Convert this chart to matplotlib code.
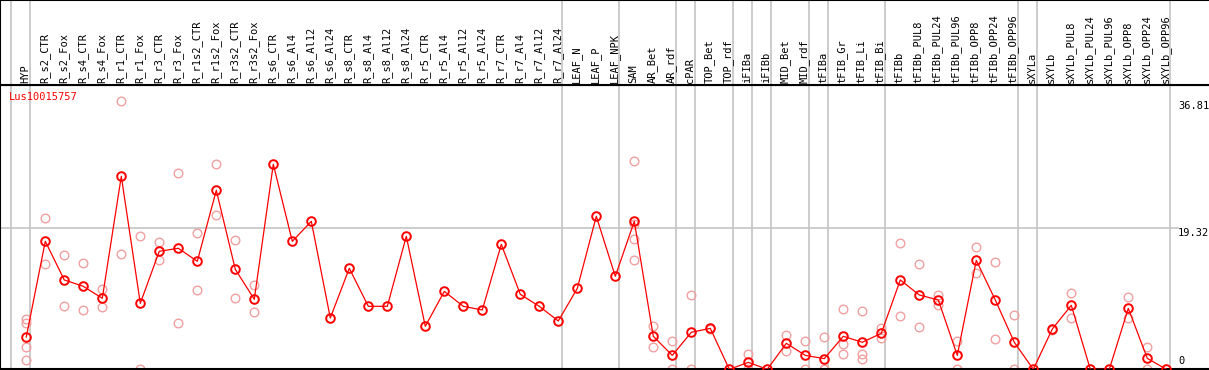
import matplotlib
matplotlib.use("Agg")
import matplotlib.pyplot as plt
from matplotlib.transforms import blended_transform_factory

# sample names (one column each)
samples = ["HYP",
           "R_s2_CTR", "R_s2_Fox", "R_s4_CTR", "R_s4_Fox", "R_r1_CTR", "R_r1_Fox",
           "R_r3_CTR", "R_r3_Fox", "R_r1s2_CTR", "R_r1s2_Fox", "R_r3s2_CTR", "R_r3s2_Fox",
           "R_s6_CTR", "R_s6_Al4", "R_s6_Al12", "R_s6_Al24", "R_s8_CTR", "R_s8_Al4",
           "R_s8_Al12", "R_s8_Al24", "R_r5_CTR", "R_r5_Al4", "R_r5_Al12", "R_r5_Al24",
           "R_r7_CTR", "R_r7_Al4", "R_r7_Al12", "R_r7_Al24",
           "LEAF_N", "LEAF_P", "LEAF_NPK",
           "SAM", "AR_Bet", "AR_rdf",
           "cPAR",
           "TOP_Bet", "TOP_rdf",
           "iFIBa",
           "iFIBb",
           "MID_Bet", "MID_rdf",
           "tFIBa",
           "tFIB_Gr", "tFIB_Li", "tFIB_Bi",
           "tFIBb", "tFIBb_PUL8", "tFIBb_PUL24", "tFIBb_PUL96", "tFIBb_OPP8",
           "tFIBb_OPP24", "tFIBb_OPP96",
           "sXYLa",
           "sXYLb", "sXYLb_PUL8", "sXYLb_PUL24", "sXYLb_PUL96", "sXYLb_OPP8",
           "sXYLb_OPP24", "sXYLb_OPP96"]

# how many samples in each grey-boxed group
group_sizes = [1, 28, 3, 3, 1, 2, 1, 1, 2, 1, 3, 7, 1, 7]

# mean expression
means = [4.43, 17.54, 12.24, 11.37, 9.73, 26.45, 9.04, 16.17, 16.58, 14.80,
         24.53, 13.70, 9.59, 28.09, 17.53, 20.28, 7.03, 13.84, 8.63, 8.63,
         18.22, 5.89, 10.68, 8.63, 8.13, 17.12, 10.27, 8.63, 6.62, 11.09,
         20.96, 12.74, 20.28, 4.52, 1.91, 5.07, 5.61, 0, 0.95, 0,
         3.56, 1.91, 1.46, 4.52, 3.70, 4.93, 12.24, 10.18, 9.50, 1.91,
         14.93, 9.50, 3.70, 0, 5.52, 8.77, 0, 0, 8.35, 1.50, 0]

# replicates
reps = [[6.85, 6.39, 3.01, 1.27], [20.73, 14.39], [15.66, 8.63], [14.57, 8.08],
        [11.0, 8.5], [36.81, 15.76], [18.22, 0], [17.4, 14.94], [26.86, 6.3],
        [18.63, 10.82], [28.09, 21.14], [17.68, 9.73], [11.55, 7.81],
        [], [], [], [], [], [], [], [], [], [], [], [], [], [], [], [],
        [], [], [],
        [28.54, 19.9, 17.81, 14.93], [5.89, 3.01], [3.88, 0],
        [10.18, 0],
        [5.5], [],
        [2.1, 0],
        [],
        [4.65, 2.46], [3.88, 0],
        [4.38, 0, 0],
        [8.26, 3.42, 2.05], [7.99, 2.05, 1.37], [5.61, 4.33],
        [17.31, 7.30], [14.43, 5.80], [10.18, 8.77], [3.88, 0], [16.76, 13.15],
        [14.70, 4.15], [7.40, 0],
        [],
        [5.4], [10.46, 6.98], [], [], [9.86, 6.98], [3.06, 0], []]

gene = "Lus10015757"
y_max = 36.81
y_mid = 19.32

W, H = 1209, 370
fig = plt.figure(figsize=(W / 100, H / 100), dpi=100)
head_h = 85
plot_h = 284.3

ax = fig.add_axes([0, (H - 85 - plot_h) / H, 1, plot_h / H])
hax = fig.add_axes([0, (H - head_h) / H, 1, head_h / H], sharex=ax)

n = len(samples)
px = 19.0
x0 = 26.3
ax.set_xlim(-x0 / px, (W - x0) / px)
ax.set_ylim(0, plot_h / 7.298)
hax.set_ylim(0, 1)

for a in (ax, hax):
    a.set_xticks([])
    a.set_yticks([])
    a.spines["right"].set_visible(False)
    for s in ("top", "bottom", "left"):
        a.spines[s].set_linewidth(1.5)
        a.spines[s].set_color("black")

mono = "DejaVu Sans Mono"
grey = "#c4c4c4"

# group separators
edges = [-1]
for g in group_sizes:
    edges.append(edges[-1] + g)
for e in edges:
    ax.axvline(e + 0.21, color=grey, lw=1.2, zorder=0)
    hax.axvline(e + 0.21, color=grey, lw=1.2, zorder=0)

ax.axhline(y_mid, xmax=1178 / W, color=grey, lw=1.2, zorder=0)

# sample labels
for i, s in enumerate(samples):
    hax.text(i - 0.05, 0.025, s, rotation=90, ha="center", va="bottom",
             family=mono, fontsize=7.5)

# replicate points
rx = [i for i, r in enumerate(reps) for _ in r]
ry = [v for r in reps for v in r]
ax.plot(rx, ry, ls="none", marker="o", ms=6.2, mfc="none", mec="#f0a0a0",
        mew=1.0, zorder=2)

# mean line
ax.plot(range(n), means, color="red", lw=0.9, marker="o", ms=6.2, mfc="none",
        mec="red", mew=1.4, zorder=3)

ax.text(9 / W, 1 - 12 / plot_h, gene, transform=ax.transAxes, color="red",
        family=mono, fontsize=7.5, ha="left", va="center")

tr = blended_transform_factory(ax.transAxes, ax.transData)
lx = 1178 / W
ax.text(lx, y_max, "%.2f" % y_max, transform=tr, family=mono, fontsize=7.5,
        ha="left", va="top")
ax.text(lx, y_mid, "%.2f" % y_mid, transform=tr, family=mono, fontsize=7.5,
        ha="left", va="top")
ax.text(lx, 0.4, "0", transform=tr, family=mono, fontsize=7.5,
        ha="left", va="bottom")

fig.savefig("out.png", dpi=100)
